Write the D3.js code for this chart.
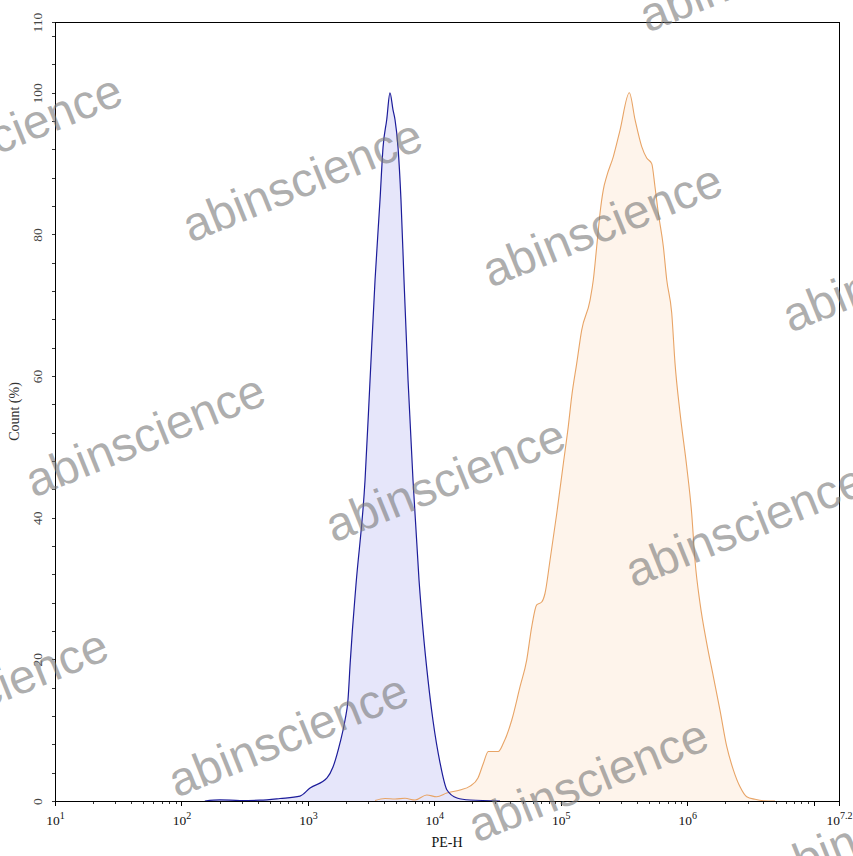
<!DOCTYPE html>
<html>
<head>
<meta charset="utf-8">
<script src="https://cdn.jsdelivr.net/npm/d3@7"></script>
<style>
  html, body { margin: 0; padding: 0; background: #fff; }
  svg { display: block; }
</style>
</head>
<body>
<svg id="chart" width="853" height="856"></svg>
<script>
// ---------- data ----------
const blueX = [153, 202, 290, 418, 601, 866, 1040, 1416, 1579, 1794, 1965, 2075, 2160, 2250, 2399, 2830, 3100, 3397, 3718, 3928, 4200, 4457, 4710, 4886, 5161, 5445, 5754, 6194, 6780, 7563, 8130, 8910, 9750, 11090, 12590, 15100, 19140, 33040];
const blueY = [0, 0.15, 0.07, 0.11, 0.35, 0.7, 1.84, 3.25, 4.8, 8.2, 11.4, 14.3, 19.5, 24.2, 30.5, 45.3, 59.4, 73.6, 84.9, 92.3, 96.2, 100, 97.6, 96.2, 92.3, 84.9, 73.6, 59.4, 45.3, 31.2, 24.2, 17.1, 11.4, 5.4, 1.55, 0.42, 0.14, 0];

const orangeX = [3397, 4074, 4886, 5861, 7031, 8705, 10440, 12530, 15960, 19140, 22130, 24380, 26710, 32060, 35100, 40900, 47550, 53730, 58880, 64450, 70580, 74960, 82160, 92870, 104800, 114600, 121900, 133600, 146300, 170200, 180800, 192300, 204200, 216800, 230500, 260300, 293800, 348300, 386400, 436400, 477800, 523600, 555900, 590600, 646900, 688000, 753600, 800300, 876800, 990800, 1084000, 1151000, 1262000, 1425000, 1607000, 1816000, 2052000, 2314000, 2614000, 2953000, 3434000, 3993000, 4940000];
const orangeY = [0.07, 0.35, 0.28, 0.38, 0.14, 0.85, 0.6, 1.13, 1.55, 2.1, 3.25, 5.3, 7.0, 7.0, 8.15, 11.4, 16.1, 19.9, 24.6, 27.7, 28.1, 29.3, 34.0, 40.6, 47.7, 52.9, 57.1, 61.8, 66.5, 70.7, 73.6, 78.3, 83.0, 86.3, 88.2, 91.0, 94.7, 100, 96.2, 92.4, 90.8, 90.0, 86.7, 83.0, 78.3, 73.6, 68.9, 61.8, 54.8, 47.2, 40.6, 34.0, 27.9, 22.3, 17.6, 12.8, 7.7, 4.4, 2.0, 0.6, 0.24, 0.04, 0];

const xMajorExponents = [1, 2, 3, 4, 5, 6, 7.2];
const yLabelValues = [0, 20, 40, 60, 80, 100, 110];
const xAxisTitle = "PE-H";
const yAxisTitle = "Count (%)";
const watermarkText = "abinscience";

// ---------- layout ----------
const mLeft = 55, mRight = 839, mTop = 22, mBottom = 801;
const svg = d3.select("#chart");
const serif = "'Liberation Serif', 'Times New Roman', serif";

const x = d3.scaleLog().domain([10, Math.pow(10, 7.2)]).range([mLeft, mRight]);
const y = d3.scaleLinear().domain([0, 110]).range([mBottom, mTop]);

// ---------- histograms ----------
const area = d3.area().x(d => x(d[0])).y0(y(0)).y1(d => y(d[1])).curve(d3.curveMonotoneX);
const line = d3.line().x(d => x(d[0])).y(d => y(d[1])).curve(d3.curveMonotoneX);

const blue = blueX.map((v, i) => [v, blueY[i]]);
const orange = orangeX.map((v, i) => [v, orangeY[i]]);

svg.append("path").datum(orange).attr("d", area).attr("fill", "#fef4eb");
svg.append("path").datum(blue).attr("d", area).attr("fill", "#e6e6fa");
svg.append("path").datum(orange).attr("d", line).attr("fill", "none").attr("stroke", "#e8a466").attr("stroke-width", 1.1);
svg.append("path").datum(blue).attr("d", line).attr("fill", "none").attr("stroke", "#1c1c9a").attr("stroke-width", 1.2);

// ---------- frame ----------
svg.append("rect").attr("x", mLeft).attr("y", mTop).attr("width", mRight - mLeft).attr("height", mBottom - mTop)
  .attr("fill", "none").attr("stroke", "#000").attr("stroke-width", 1).attr("shape-rendering", "crispEdges");

// ---------- x axis ----------
const minorTicks = [];
for (let e = 1; e <= 7; e++) {
  for (let m = 2; m <= 9; m++) {
    const v = m * Math.pow(10, e);
    if (v < Math.pow(10, 7.2)) minorTicks.push(v);
  }
}
const majorTicks = xMajorExponents.map(e => Math.pow(10, e)).concat([1e7]);

svg.append("g").attr("transform", `translate(0,${mBottom})`)
  .call(d3.axisBottom(x).tickValues(minorTicks).tickSize(3).tickFormat(""))
  .call(g => g.select(".domain").remove())
  .call(g => g.selectAll("line").attr("stroke", "#333").attr("shape-rendering", "crispEdges"));

const xAx = svg.append("g").attr("transform", `translate(0,${mBottom})`)
  .call(d3.axisBottom(x).tickValues(majorTicks).tickSize(5).tickFormat(""))
  .call(g => g.select(".domain").attr("stroke", "#000"))
  .call(g => g.selectAll("line").attr("stroke", "#000").attr("shape-rendering", "crispEdges"));

xAx.selectAll(".tick").each(function(d) {
  const e = Math.round(Math.log10(d) * 10) / 10;
  if (!xMajorExponents.includes(e)) return;
  const t = d3.select(this).select("text")
    .attr("y", 24).attr("dy", null)
    .attr("font-family", serif).attr("font-size", 13.5).attr("fill", "#111")
    .attr("text-anchor", "middle");
  t.text(null);
  t.append("tspan").text("10");
  t.append("tspan").attr("dy", -6).attr("font-size", 10).text(String(e));
});

svg.append("text").attr("x", (mLeft + mRight) / 2).attr("y", 847)
  .attr("text-anchor", "middle").attr("font-family", serif).attr("font-size", 14).attr("fill", "#111")
  .text(xAxisTitle);

// ---------- y axis ----------
const yTicks = d3.range(0, 110, 4).concat([110]);
const yAx = svg.append("g").attr("transform", `translate(${mLeft},0)`)
  .call(d3.axisLeft(y).tickValues(yTicks).tickSize(3).tickFormat(""))
  .call(g => g.select(".domain").attr("stroke", "#000"))
  .call(g => g.selectAll("line").attr("stroke", "#333").attr("shape-rendering", "crispEdges"));

yAx.selectAll(".tick").each(function(d) {
  if (!yLabelValues.includes(d)) return;
  d3.select(this).select("text")
    .attr("x", null).attr("dy", null)
    .attr("transform", "translate(-13,0) rotate(-90)")
    .attr("text-anchor", "middle")
    .attr("font-family", serif).attr("font-size", 13.5).attr("fill", "#444")
    .text(String(d));
});

svg.append("text").attr("transform", `translate(19,${(mTop + mBottom) / 2}) rotate(-90)`)
  .attr("text-anchor", "middle").attr("font-family", serif).attr("font-size", 14).attr("fill", "#333")
  .text(yAxisTitle);

// ---------- watermarks ----------
const origin = [302, 180], va = [300, 45], vb = [-157, 255];
const wm = svg.append("g").attr("pointer-events", "none");
for (let i = -2; i <= 3; i++) {
  for (let j = -2; j <= 4; j++) {
    const cx = origin[0] + i * va[0] + j * vb[0];
    const cy = origin[1] + i * va[1] + j * vb[1];
    if (cx < -200 || cx > 1060 || cy < -120 || cy > 980) continue;
    wm.append("text")
      .attr("transform", `translate(${cx},${cy}) rotate(-22)`)
      .attr("text-anchor", "middle").attr("dy", "0.35em")
      .attr("font-family", "'Liberation Sans', Arial, sans-serif").attr("font-size", 48)
      .attr("fill", "rgb(120,120,120)").attr("fill-opacity", 0.6)
      .text(watermarkText);
  }
}
</script>
</body>
</html>
